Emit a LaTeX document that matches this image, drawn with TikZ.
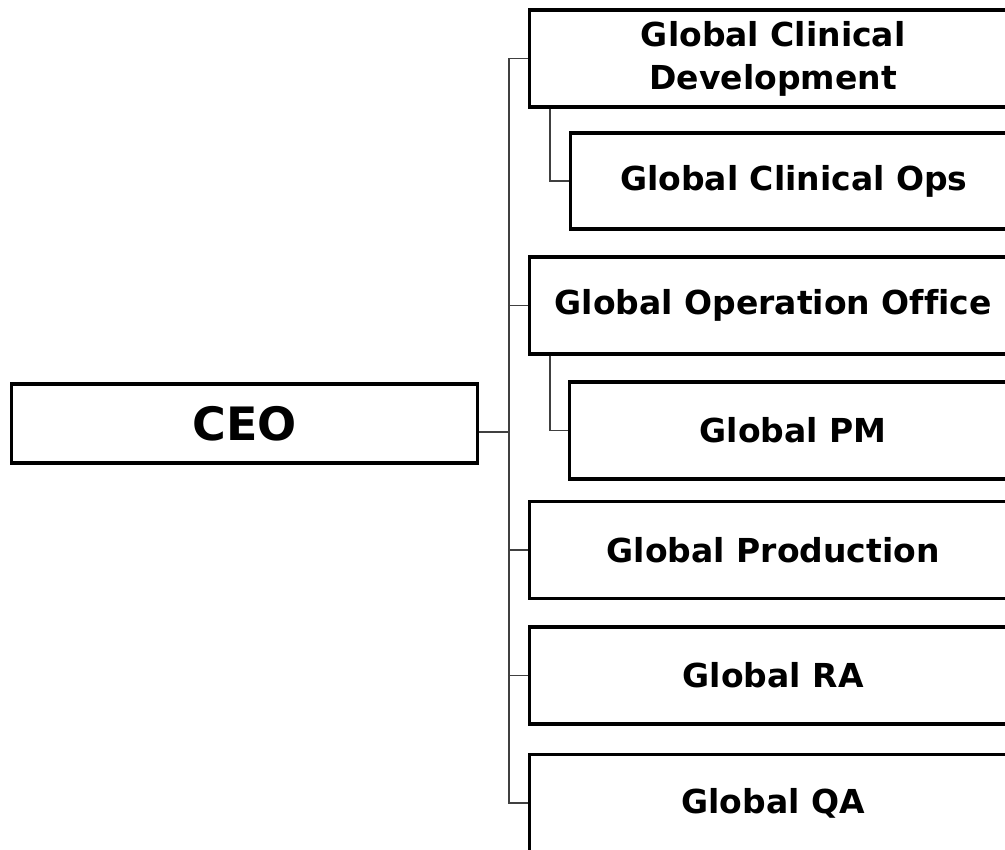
\documentclass[tikz,border=0pt]{standalone}
\usepackage{fontspec}
\setmainfont{DejaVu Sans}[Ligatures=NoCommon]
\usepackage{tikz}

\begin{document}
\begin{tikzpicture}[x=1pt,y=-1pt,
		unitbox/.style={draw=black, line width=3.4pt, rectangle, anchor=west, inner sep=0pt,
			minimum width=487pt, minimum height=97pt, align=center,
			font=\fontsize{33}{43}\selectfont\bfseries},
		link/.style={draw=black!75, line width=1.7pt}]
				\useasboundingbox (0,0) rectangle (1005,850);
				\clip (0,0) rectangle (1005,850);
				\node [unitbox, minimum width=466pt, minimum height=79pt,
					font=\fontsize{46}{52}\selectfont\bfseries] (ceo) at (10,423.5) {CEO};
				\node [unitbox] (gcd) at (528,58.5) {Global Clinical\\Development};
				\node [unitbox, minimum width=446pt, minimum height=96pt] (gco) at (569,181) {Global Clinical Ops};
				\node [unitbox] (goo) at (528,305.5) {Global Operation Office};
				\node [unitbox, minimum width=447pt] (gpm) at (568,430.5) {Global PM};
				\node [unitbox] (gpr) at (528,550) {Global Production};
				\node [unitbox] (gra) at (528,675.5) {Global RA};
				\node [unitbox] (gqa) at (528,803) {Global QA};
				\coordinate (trunk) at (509,0);
				\coordinate (sub) at (550,0);
				% main branch
				\draw [link] (gcd.west) -- (gcd.west -| trunk) -- (gqa.west -| trunk) -- (gqa.west);
				\draw [link] ([yshift=-8.5pt]ceo.east) -- ([yshift=-8.5pt]ceo.east -| trunk);
				\draw [link] (goo.west) -- (goo.west -| trunk);
				\draw [link] (gpr.west) -- (gpr.west -| trunk);
				\draw [link] (gra.west) -- (gra.west -| trunk);
				% sub units
				\draw [link] (gcd.south -| sub) |- (gco.west);
				\draw [link] (goo.south -| sub) |- (gpm.west);
\end{tikzpicture}
\end{document}
